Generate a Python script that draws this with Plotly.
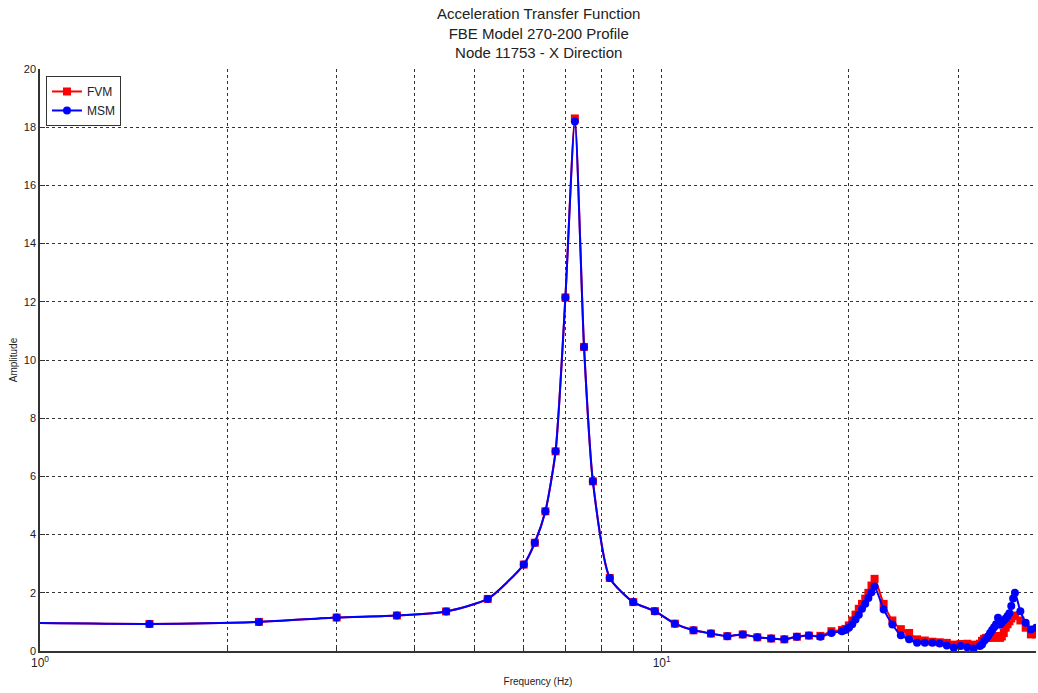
import plotly.graph_objects as go

freq = [0.75, 1.5, 2.25, 3.0, 3.75, 4.5, 5.25, 6.0, 6.25, 6.5, 6.75, 7.0, 7.25, 7.5, 7.75,
        8.25, 9.0, 9.75, 10.5, 11.25, 12.0, 12.75, 13.5, 14.25, 15.0, 15.75, 16.5, 17.25,
        18.0, 18.75, 19.5, 19.75, 20.0, 20.25, 20.5, 20.75, 21.0, 21.25, 21.5, 21.75, 22.0,
        22.75, 23.5, 24.25, 25.0, 25.75, 26.5, 27.25, 28.0, 28.75, 29.5, 30.25, 31.0, 31.75,
        32.5, 32.75, 33.0, 33.25, 33.5, 33.75, 34.0, 34.25, 34.5, 34.75, 35.0, 35.25, 35.5,
        35.75, 36.0, 36.25, 36.5, 36.75, 37.0, 37.75, 38.5, 39.25, 40.0]

msm = [0.99, 0.93, 1.00, 1.15, 1.22, 1.36, 1.79, 2.97, 3.72, 4.80, 6.86, 12.15, 18.2, 10.45, 5.83,
       2.51, 1.68, 1.37, 0.94, 0.71, 0.60, 0.51, 0.57, 0.47, 0.43, 0.40, 0.49, 0.53,
       0.49, 0.62, 0.68, 0.72, 0.80, 0.92, 1.08, 1.25, 1.45, 1.62, 1.82, 2.02, 2.22,
       1.43, 0.91, 0.54, 0.40, 0.28, 0.28, 0.28, 0.26, 0.19, 0.11, 0.17, 0.13, 0.09,
       0.17, 0.22, 0.34, 0.42, 0.51, 0.62, 0.72, 0.82, 0.92, 1.14, 0.90, 0.98, 1.05,
       1.12, 1.20, 1.30, 1.55, 1.80, 2.00, 1.37, 0.97, 0.74, 0.80]

fvm = [0.99, 0.93, 1.00, 1.15, 1.22, 1.36, 1.79, 2.97, 3.72, 4.80, 6.86, 12.15, 18.3, 10.45, 5.83,
       2.51, 1.68, 1.37, 0.94, 0.71, 0.60, 0.51, 0.57, 0.47, 0.43, 0.40, 0.49, 0.53,
       0.52, 0.68, 0.72, 0.76, 0.88, 1.05, 1.25, 1.45, 1.62, 1.80, 2.00, 2.25, 2.48,
       1.62, 1.05, 0.75, 0.62, 0.40, 0.36, 0.32, 0.30, 0.28, 0.22, 0.24, 0.25, 0.22,
       0.25, 0.35, 0.42, 0.45, 0.45, 0.48, 0.45, 0.48, 0.52, 0.50, 0.45, 0.50, 0.62,
       0.80, 0.92, 1.02, 1.12, 1.20, 1.22, 1.05, 0.80, 0.57, 0.57]

x_major = [1, 10]
x_major_text = ["10<sup>0</sup>", "10<sup>1</sup>"]
x_minor = [2, 3, 4, 5, 6, 7, 8, 9, 20, 30, 40]
y_ticks = list(range(0, 21, 2))

title_lines = ["Acceleration Transfer Function", "FBE Model 270-200 Profile", "Node 11753 - X Direction"]

FONT = "Liberation Sans, Arial, sans-serif"
TXT = "#222222"

fig = go.Figure()
fig.add_trace(go.Scatter(
    x=freq, y=fvm, name="FVM", mode="lines+markers",
    line=dict(color="#ff0000", width=2, shape="spline", smoothing=0.6),
    marker=dict(symbol="square", size=8, color="#ff0000"),
))
fig.add_trace(go.Scatter(
    x=freq, y=msm, name="MSM", mode="lines+markers",
    line=dict(color="#0000ff", width=2, shape="spline", smoothing=0.6),
    marker=dict(symbol="circle", size=8, color="#0000ff"),
))

fig.add_annotation(
    text="<br>".join(title_lines), xref="paper", yref="paper",
    x=0.5, y=1.113, xanchor="center", yanchor="top", showarrow=False,
    font=dict(size=15, family=FONT, color=TXT), align="center",
)

fig.update_layout(
    width=1038, height=693,
    margin=dict(l=40, r=2, t=69, b=42),
    paper_bgcolor="white", plot_bgcolor="white",
    font=dict(family=FONT, color=TXT),
    showlegend=True,
    legend=dict(
        x=0.006, y=0.988, xanchor="left", yanchor="top",
        bgcolor="white", bordercolor="#333333", borderwidth=1,
        font=dict(size=12, family=FONT, color=TXT),
        itemwidth=30, tracegroupgap=0,
    ),
    xaxis=dict(
        type="log", range=[0, 1.60206], automargin=False,
        tickmode="array", tickvals=x_major, ticktext=x_major_text,
        ticks="inside", ticklen=5, tickcolor="#333333",
        showgrid=True, gridcolor="#333333", griddash="dot", gridwidth=1,
        minor=dict(tickmode="array", tickvals=x_minor, ticks="inside", ticklen=3,
                   tickcolor="#333333", showgrid=True, gridcolor="#333333",
                   griddash="dot", gridwidth=1),
        showline=True, linecolor="#333333", linewidth=1.5, mirror=False,
        zeroline=False,
        tickfont=dict(size=12, family=FONT, color=TXT),
        title=dict(text="Frequency (Hz)", font=dict(size=10, family=FONT, color=TXT), standoff=9),
    ),
    yaxis=dict(
        range=[0, 20], tickmode="array", tickvals=y_ticks, automargin=False,
        ticks="inside", ticklen=5, tickcolor="#333333",
        showgrid=True, gridcolor="#333333", griddash="dot", gridwidth=1,
        showline=True, linecolor="#333333", linewidth=1.5, mirror=False,
        zeroline=False,
        tickfont=dict(size=11, family=FONT, color=TXT),
        title=dict(text="Amplitude", font=dict(size=10, family=FONT, color=TXT), standoff=4),
    ),
)

fig.write_html(
    "out.html",
    config={"displayModeBar": False},
    post_script="document.body.style.margin='0px';document.body.style.overflow='hidden';",
)
